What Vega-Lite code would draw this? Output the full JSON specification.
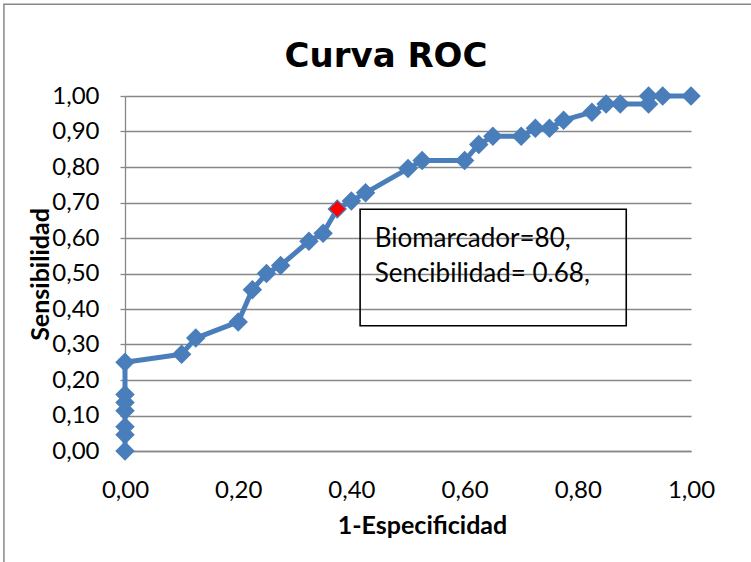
{
  "$schema": "https://vega.github.io/schema/vega-lite/v6.json",
  "width": 566,
  "height": 355,
  "autosize": {"type": "none"},
  "padding": {"left": 125, "top": 96, "right": 60, "bottom": 111},
  "background": "white",
  "title": {"text": "Curva ROC", "font": "DejaVu Sans", "fontSize": 34, "fontWeight": "bold", "color": "#000000", "anchor": "middle", "frame": "group", "baseline": "alphabetic", "offset": 0, "dx": -22, "dy": 98},
  "config": {
    "view": {"stroke": null},
    "font": "Lato",
    "axisX": {"grid": false, "ticks": false, "tickSize": 0, "domain": true, "domainColor": "#878787", "domainWidth": 1.3, "labelFont": "Lato", "labelFontSize": 24, "labelColor": "#000000", "labelPadding": 46, "labelBaseline": "alphabetic", "labelFlush": false, "labelOverlap": false, "titleFont": "Lato", "titleFontSize": 25, "titleFontWeight": "bold", "titleColor": "#000000", "titleX": 297, "titleY": 82, "titleBaseline": "alphabetic", "titleAlign": "center"},
    "axisY": {"grid": true, "gridColor": "#878787", "gridWidth": 1.3, "ticks": true, "tickSize": 5, "tickColor": "#878787", "tickWidth": 1.3, "domain": true, "domainColor": "#878787", "domainWidth": 1.3, "labelFont": "Lato", "labelFontSize": 24, "labelColor": "#000000", "labelPadding": 21, "labelBaseline": "middle", "labelFlush": false, "labelOverlap": false, "titleFont": "Lato", "titleFontSize": 25, "titleFontWeight": "bold", "titleColor": "#000000", "titleX": -77, "titleY": 178, "titleAngle": 270, "titleBaseline": "alphabetic", "titleAlign": "center"}
  },
  "data": {"values": [
    {"fpr": 0, "tpr": 0, "ord": 1},
    {"fpr": 0, "tpr": 0.0455, "ord": 2},
    {"fpr": 0, "tpr": 0.0682, "ord": 3},
    {"fpr": 0, "tpr": 0.1136, "ord": 4},
    {"fpr": 0, "tpr": 0.1364, "ord": 5},
    {"fpr": 0, "tpr": 0.1591, "ord": 6},
    {"fpr": 0, "tpr": 0.25, "ord": 7},
    {"fpr": 0.1, "tpr": 0.2727, "ord": 8},
    {"fpr": 0.125, "tpr": 0.3182, "ord": 9},
    {"fpr": 0.2, "tpr": 0.3636, "ord": 10},
    {"fpr": 0.225, "tpr": 0.4545, "ord": 11},
    {"fpr": 0.25, "tpr": 0.5, "ord": 12},
    {"fpr": 0.275, "tpr": 0.5227, "ord": 13},
    {"fpr": 0.325, "tpr": 0.5909, "ord": 14},
    {"fpr": 0.35, "tpr": 0.6136, "ord": 15},
    {"fpr": 0.375, "tpr": 0.6818, "ord": 16},
    {"fpr": 0.4, "tpr": 0.7045, "ord": 17},
    {"fpr": 0.425, "tpr": 0.7273, "ord": 18},
    {"fpr": 0.5, "tpr": 0.7955, "ord": 19},
    {"fpr": 0.525, "tpr": 0.8182, "ord": 20},
    {"fpr": 0.6, "tpr": 0.8182, "ord": 21},
    {"fpr": 0.625, "tpr": 0.8636, "ord": 22},
    {"fpr": 0.65, "tpr": 0.8864, "ord": 23},
    {"fpr": 0.7, "tpr": 0.8864, "ord": 24},
    {"fpr": 0.725, "tpr": 0.9091, "ord": 25},
    {"fpr": 0.75, "tpr": 0.9091, "ord": 26},
    {"fpr": 0.775, "tpr": 0.9318, "ord": 27},
    {"fpr": 0.825, "tpr": 0.9545, "ord": 28},
    {"fpr": 0.85, "tpr": 0.9773, "ord": 29},
    {"fpr": 0.875, "tpr": 0.9773, "ord": 30},
    {"fpr": 0.925, "tpr": 0.9773, "ord": 31},
    {"fpr": 0.925, "tpr": 1.0, "ord": 32},
    {"fpr": 0.95, "tpr": 1.0, "ord": 33},
    {"fpr": 1.0, "tpr": 1.0, "ord": 34}
  ]},
  "layer": [
    {
      "mark": {"type": "line", "color": "#4A7EBB", "strokeWidth": 5, "strokeJoin": "round"},
      "encoding": {
        "x": {"field": "fpr", "type": "quantitative", "scale": {"domain": [0, 1], "nice": false, "zero": false},
          "axis": {"values": [0, 0.2, 0.4, 0.6, 0.8, 1], "labelExpr": "replace(format(datum.value, '.2f'), '.', ',')", "title": "1-Especificidad"}},
        "y": {"field": "tpr", "type": "quantitative", "scale": {"domain": [0, 1], "nice": false, "zero": false},
          "axis": {"values": [0, 0.1, 0.2, 0.3, 0.4, 0.5, 0.6, 0.7, 0.8, 0.9, 1], "labelExpr": "replace(format(datum.value, '.2f'), '.', ',')", "title": "Sensibilidad"}},
        "order": {"field": "ord", "type": "quantitative"}
      }
    },
    {
      "mark": {"type": "point", "shape": "diamond", "filled": true, "color": "#4A7EBB", "size": 380, "opacity": 1},
      "encoding": {
        "x": {"field": "fpr", "type": "quantitative",
          "axis": {"values": [0, 0.2, 0.4, 0.6, 0.8, 1], "labelExpr": "replace(format(datum.value, '.2f'), '.', ',')", "title": "1-Especificidad"}},
        "y": {"field": "tpr", "type": "quantitative",
          "axis": {"values": [0, 0.1, 0.2, 0.3, 0.4, 0.5, 0.6, 0.7, 0.8, 0.9, 1], "labelExpr": "replace(format(datum.value, '.2f'), '.', ',')", "title": "Sensibilidad"}}
      }
    },
    {
      "transform": [{"filter": "datum.ord == 16"}],
      "mark": {"type": "point", "shape": "diamond", "filled": true, "fill": "#FF0000", "stroke": "#4A7EBB", "strokeWidth": 1, "size": 280, "opacity": 1},
      "encoding": {
        "x": {"field": "fpr", "type": "quantitative",
          "axis": {"values": [0, 0.2, 0.4, 0.6, 0.8, 1], "labelExpr": "replace(format(datum.value, '.2f'), '.', ',')", "title": "1-Especificidad"}},
        "y": {"field": "tpr", "type": "quantitative",
          "axis": {"values": [0, 0.1, 0.2, 0.3, 0.4, 0.5, 0.6, 0.7, 0.8, 0.9, 1], "labelExpr": "replace(format(datum.value, '.2f'), '.', ',')", "title": "Sensibilidad"}}
      }
    },
    {
      "data": {"values": [{"note": "box"}]},
      "mark": {"type": "rect", "fill": null, "stroke": "#000000", "strokeWidth": 1.6},
      "encoding": {
        "x": {"datum": 0.4154, "type": "quantitative",
          "axis": {"values": [0, 0.2, 0.4, 0.6, 0.8, 1], "labelExpr": "replace(format(datum.value, '.2f'), '.', ',')", "title": "1-Especificidad"}},
        "x2": {"datum": 0.8856},
        "y": {"datum": 0.681, "type": "quantitative",
          "axis": {"values": [0, 0.1, 0.2, 0.3, 0.4, 0.5, 0.6, 0.7, 0.8, 0.9, 1], "labelExpr": "replace(format(datum.value, '.2f'), '.', ',')", "title": "Sensibilidad"}},
        "y2": {"datum": 0.353}
      }
    },
    {
      "data": {"values": [{"note": "label"}]},
      "mark": {"type": "text", "text": ["Biomarcador=80,", "Sencibilidad= 0.68,"], "align": "left", "baseline": "alphabetic", "lineHeight": 35, "font": "Lato", "fontSize": 26, "color": "#000000"},
      "encoding": {
        "x": {"datum": 0.4411, "type": "quantitative",
          "axis": {"values": [0, 0.2, 0.4, 0.6, 0.8, 1], "labelExpr": "replace(format(datum.value, '.2f'), '.', ',')", "title": "1-Especificidad"}},
        "y": {"datum": 0.576, "type": "quantitative",
          "axis": {"values": [0, 0.1, 0.2, 0.3, 0.4, 0.5, 0.6, 0.7, 0.8, 0.9, 1], "labelExpr": "replace(format(datum.value, '.2f'), '.', ',')", "title": "Sensibilidad"}}
      }
    },
    {
      "data": {"values": [{"note": "frame"}]},
      "mark": {"type": "rect", "fill": null, "stroke": "#878787", "strokeWidth": 1.5},
      "encoding": {
        "x": {"datum": -0.2139, "type": "quantitative",
          "axis": {"values": [0, 0.2, 0.4, 0.6, 0.8, 1], "labelExpr": "replace(format(datum.value, '.2f'), '.', ',')", "title": "1-Especificidad"}},
        "x2": {"datum": 1.4},
        "y": {"datum": 1.2588, "type": "quantitative",
          "axis": {"values": [0, 0.1, 0.2, 0.3, 0.4, 0.5, 0.6, 0.7, 0.8, 0.9, 1], "labelExpr": "replace(format(datum.value, '.2f'), '.', ',')", "title": "Sensibilidad"}},
        "y2": {"datum": -0.6}
      }
    }
  ]
}
